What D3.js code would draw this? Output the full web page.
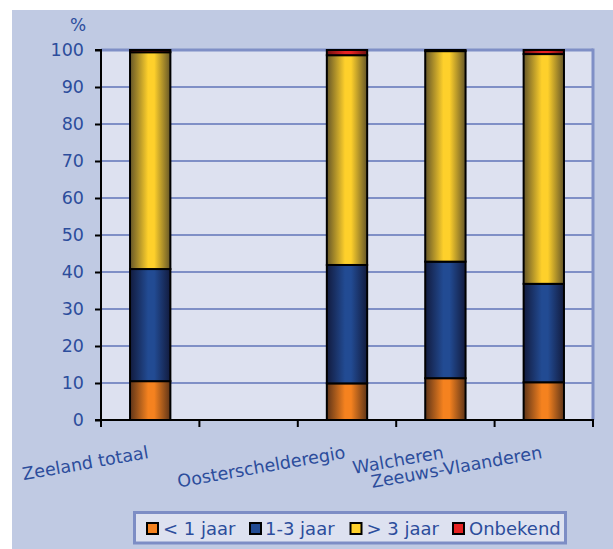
<!DOCTYPE html>
<html><head><meta charset="utf-8">
<script src="https://cdn.jsdelivr.net/npm/d3@7"></script>
<style>
html,body{margin:0;padding:0;background:#fff;}
svg{display:block;}
text{font-family:"DejaVu Sans",Verdana,sans-serif;fill:#2c4d9c;}
</style></head>
<body>
<script>
// ---- data ----
const categories = ["Zeeland totaal", "", "Oosterschelderegio", "Walcheren", "Zeeuws-Vlaanderen"];
const seriesNames = ["< 1 jaar", "1-3 jaar", "> 3 jaar", "Onbekend"];
const lessThan1 = [10.5, null, 9.9, 11.3, 10.2];
const oneToThree = [30.3, null, 32.0, 31.5, 26.6];
const moreThan3 = [58.6, null, 56.7, 56.9, 62.1];
const unknown = [0.6, null, 1.4, 0.3, 1.1];
const yTicks = [0, 10, 20, 30, 40, 50, 60, 70, 80, 90, 100];

const W = 613, H = 549;
const plot = {left: 101, right: 593, top: 50, bottom: 420};

const svg = d3.select("body").append("svg").attr("width", W).attr("height", H);
const defs = svg.append("defs");

const palette = [
  {bright: "#f5821f", dark: "#5e3418"},
  {bright: "#224b93", dark: "#121b3e"},
  {bright: "#fed02b", dark: "#655628"},
  {bright: "#e52222", dark: "#6e1010"}
];
palette.forEach((p, i) => {
  const g = defs.append("linearGradient").attr("id", "g" + i)
    .attr("x1", "0%").attr("x2", "100%").attr("y1", "0%").attr("y2", "0%");
  g.append("stop").attr("offset", "0%").attr("stop-color", p.dark);
  g.append("stop").attr("offset", "45%").attr("stop-color", p.bright);
  g.append("stop").attr("offset", "60%").attr("stop-color", p.bright);
  g.append("stop").attr("offset", "100%").attr("stop-color", p.dark);
});

// panel background
svg.append("rect").attr("x", 12).attr("y", 10).attr("width", W - 12).attr("height", H - 10).attr("fill", "#c0cae3");
// plot background
svg.append("rect").attr("x", plot.left).attr("y", plot.top)
  .attr("width", plot.right - plot.left).attr("height", plot.bottom - plot.top).attr("fill", "#dde1f0");

const x = d3.scaleBand().domain(categories).range([plot.left, plot.right]).padding(0);
const y = d3.scaleLinear().domain([0, 100]).range([plot.bottom, plot.top]);

// gridlines
svg.append("g").selectAll("line").data(yTicks.filter(d => d > 0)).join("line")
  .attr("x1", plot.left).attr("x2", plot.right)
  .attr("y1", d => y(d)).attr("y2", d => y(d))
  .attr("stroke", "#7f8fc6").attr("stroke-width", d => d === 100 ? 3 : 2);
// right border of plot area
svg.append("line").attr("x1", plot.right).attr("x2", plot.right)
  .attr("y1", plot.top - 1.5).attr("y2", plot.bottom)
  .attr("stroke", "#7f8fc6").attr("stroke-width", 3);

// stacked bars
const rows = categories.map((c, i) => ({
  cat: c,
  s0: lessThan1[i] || 0, s1: oneToThree[i] || 0, s2: moreThan3[i] || 0, s3: unknown[i] || 0,
  has: lessThan1[i] != null
}));
const stack = d3.stack().keys(["s0", "s1", "s2", "s3"]);
const stacked = stack(rows);
const barW = x.bandwidth() * 0.41;
stacked.forEach((layer, li) => {
  svg.append("g").selectAll("rect").data(layer.filter(d => d.data.has)).join("rect")
    .attr("x", d => x(d.data.cat) + (x.bandwidth() - barW) / 2)
    .attr("width", barW)
    .attr("y", d => y(d[1]))
    .attr("height", d => y(d[0]) - y(d[1]))
    .attr("fill", "url(#g" + li + ")")
    .attr("stroke", "#000").attr("stroke-width", 2);
});

// y axis
const yAxis = d3.axisLeft(y).tickValues(yTicks).tickSize(6).tickPadding(11);
const ya = svg.append("g").attr("transform", `translate(${plot.left},0)`).call(yAxis);
ya.select(".domain").attr("stroke", "#000").attr("stroke-width", 2).attr("d", `M-6,${plot.top}H0V${plot.bottom + 1}`);
ya.selectAll(".tick line").attr("stroke", "#000").attr("stroke-width", 2);
ya.selectAll(".tick text").style("font-size", "17.5px").attr("fill", "#2c4d9c")
  .style("font-family", '"DejaVu Sans",Verdana,sans-serif');

// % label
svg.append("text").attr("x", 78).attr("y", 31).attr("text-anchor", "middle")
  .style("font-size", "17px").text("%");

// x axis line and ticks at band boundaries
const bounds = categories.map(c => x(c)).concat([plot.right]);
svg.append("line").attr("x1", plot.left - 6).attr("x2", plot.right + 1)
  .attr("y1", plot.bottom).attr("y2", plot.bottom).attr("stroke", "#000").attr("stroke-width", 2);
svg.append("g").selectAll("line").data(bounds).join("line")
  .attr("x1", d => d).attr("x2", d => d)
  .attr("y1", plot.bottom).attr("y2", plot.bottom + 7)
  .attr("stroke", "#000").attr("stroke-width", 2);

// category labels
svg.append("g").selectAll("text").data(categories.filter(c => c !== "")).join("text")
  .attr("transform", d => `translate(${x(d) + x.bandwidth() / 2 - 1},458) rotate(-10)`)
  .attr("text-anchor", "end")
  .style("font-size", "17.5px")
  .text(d => d);

// legend
const lg = svg.append("g");
lg.append("rect").attr("x", 134.5).attr("y", 512.5).attr("width", 431).attr("height", 30.5)
  .attr("fill", "#dde1f0").attr("stroke", "#7d8dc5").attr("stroke-width", 3);
const legendX = [147, 250, 350.5, 453];
seriesNames.forEach((n, i) => {
  lg.append("rect").attr("x", legendX[i]).attr("y", 523).attr("width", 11).attr("height", 11)
    .attr("fill", palette[i].bright).attr("stroke", "#000").attr("stroke-width", 2);
  lg.append("text").attr("x", legendX[i] + (i === 1 ? 15 : 16)).attr("y", 534.5)
    .style("font-size", "18px").text(n);
});
</script>
</body></html>
